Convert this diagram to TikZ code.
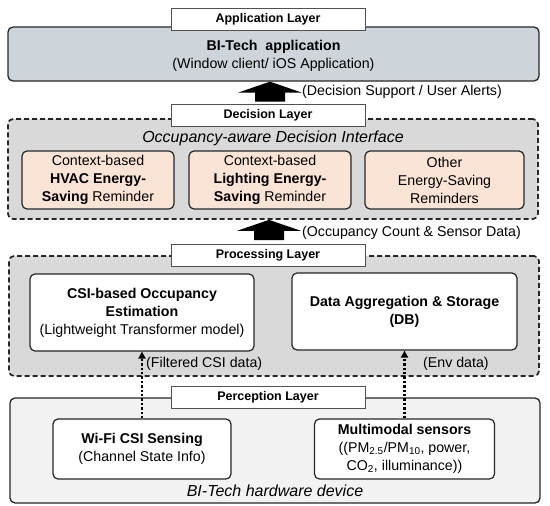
\documentclass[tikz,border=0pt]{standalone}
\usepackage{fontspec}
\setmainfont{Liberation Sans}
\usetikzlibrary{calc, arrows.meta}

\definecolor{appfill}{HTML}{CDD5DB}
\definecolor{layerfill}{HTML}{D9D9D9}
\definecolor{devfill}{HTML}{F2F2F2}
\definecolor{remfill}{HTML}{FBE4D6}
\definecolor{edge}{HTML}{262626}

\tikzset{
  layerbox/.style={draw=edge, line width=1.3pt, rounded corners=5pt, inner sep=0pt},
  dashbox/.style={layerbox, dash pattern=on 5pt off 3pt, line width=1.7pt, fill=layerfill},
  tagbox/.style={draw=edge!80, fill=white, line width=0.8pt, minimum width=194pt,
    minimum height=22pt, inner sep=0pt, font=\fontsize{12.5}{14}\selectfont\bfseries},
  unitbox/.style={draw=edge, line width=1.2pt, rounded corners=5pt, align=center,
    inner sep=0pt, font=\fontsize{14.2}{18}\selectfont},
  remindbox/.style={unitbox, fill=remfill, minimum height=58pt},
  plainbox/.style={unitbox, fill=white, minimum height=77pt},
  sensebox/.style={unitbox, fill=white, minimum height=60pt},
  flowtext/.style={font=\fontsize{14.2}{17}\selectfont, inner sep=0pt},
  titletext/.style={font=\fontsize{16}{18}\selectfont\itshape, inner sep=0pt},
  dotflow/.style={draw=black, line width=2.4pt, dash pattern=on 2.4pt off 2pt,
    -{Triangle[length=7pt, width=7pt]}},
}

% block arrow from a base point up to the bottom of a box
\newcommand{\bigarrow}[2]{%
  \fill[black] let \p1=(#1), \p2=(#2) in
    (\x1-15pt,\y1) -- (\x1-15pt,\y2-11pt) -- (\x1-32pt,\y2-11pt) -- (\x1,\y2)
    -- (\x1+32pt,\y2-11pt) -- (\x1+15pt,\y2-11pt) -- (\x1+15pt,\y1) -- cycle;}

\begin{document}
\begin{tikzpicture}[x=1pt, y=-1pt]
\useasboundingbox (0,0) rectangle (550,506);

% Application layer
\node[layerbox, fill=appfill, minimum width=531pt, minimum height=54pt] (app) at (273.5,54) {};
\node[font=\fontsize{14.2}{18}\selectfont, align=center] (apptext) at (273.5,56)
  {\textbf{BI-Tech\ \ application}\\(Window client/ iOS Application)};
\node[tagbox] (applabel) at (268,19) {Application Layer};

% Decision layer
\node[dashbox, minimum width=530pt, minimum height=100pt] (decision) at (273,169) {};
\node[titletext] (decititle) at (273,138) {Occupancy-aware Decision Interface};
\node[remindbox, minimum width=152pt] (hvac) at (98,180)
  {Context-based\\\textbf{HVAC Energy-}\\\textbf{Saving} Reminder};
\node[remindbox, minimum width=162pt] (light) at (270,180)
  {Context-based\\\textbf{Lighting Energy-}\\\textbf{Saving} Reminder};
\node[remindbox, minimum width=159pt] (other) at (444.5,180)
  {Other\\Energy-Saving\\Reminders};
\node[tagbox] (declabel) at (268,115) {Decision Layer};

% Processing layer
\node[dashbox, minimum width=530pt, minimum height=120pt] (process) at (274,316) {};
\node[plainbox, minimum width=224pt] (csi) at (142,312.5)
  {\textbf{CSI-based Occupancy}\\\textbf{Estimation}\\(Lightweight Transformer model)};
\node[plainbox, minimum width=225pt] (db) at (404.5,311.5)
  {\textbf{Data Aggregation \& Storage}\\\textbf{(DB)}};
\node[tagbox] (proclabel) at (268,255.5) {Processing Layer};

% Perception layer
\node[layerbox, fill=devfill, minimum width=530pt, minimum height=105pt] (device) at (275,450.5) {};
\node[sensebox, minimum width=178pt] (wifi) at (142,449)
  {\textbf{Wi-Fi CSI Sensing}\\(Channel State Info)};
\node[sensebox, minimum width=180pt] (multi) at (404.5,449)
  {\textbf{Multimodal sensors}\\((PM\textsubscript{2.5}/PM\textsubscript{10}, power,\\CO\textsubscript{2}, illuminance))};
\node[titletext] (devtitle) at (275,491) {BI-Tech hardware device};
\node[tagbox] (perclabel) at (268,397) {Perception Layer};

% Flows between layers
\coordinate (decup) at ($(declabel.north)+(2,-2)$);
\coordinate (procup) at ($(proclabel.north)+(1,-4)$);
\bigarrow{decup}{app.south}
\bigarrow{procup}{decision.south}
\node[flowtext, anchor=west] (flowdec) at (302,92) {(Decision Support / User Alerts)};
\node[flowtext, anchor=west] (flowproc) at (302,233) {(Occupancy Count \& Sensor Data)};

\draw[dotflow] (wifi.north) -- (csi.south);
\draw[dotflow] (multi.north) -- (db.south);
\node[flowtext, anchor=west] (flowcsi) at (146,364) {(Filtered CSI data)};
\node[flowtext, anchor=west] (flowenv) at (423,364) {(Env data)};
\end{tikzpicture}
\end{document}
